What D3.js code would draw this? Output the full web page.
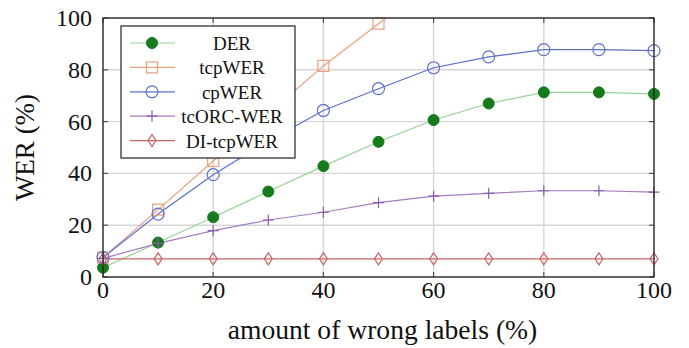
<!DOCTYPE html>
<html>
<head>
<meta charset="utf-8">
<script src="https://cdn.jsdelivr.net/npm/d3@7"></script>
<style>
  body { margin: 0; background: #fff; }
</style>
</head>
<body>
<div id="chart"></div>
<script>
// data
var xValues = [0, 10, 20, 30, 40, 50, 60, 70, 80, 90, 100];
var derValues = [3.6, 13.3, 23.1, 33.0, 42.8, 52.2, 60.6, 67.0, 71.3, 71.3, 70.7];
var tcpValues = [7.5, 26.0, 44.8, 63.0, 81.5, 97.8, 114];
var cpValues = [7.5, 24.3, 39.5, 52.5, 64.3, 72.7, 80.8, 85.0, 87.8, 87.8, 87.4];
var orcValues = [7.2, 13.0, 17.9, 22.0, 25.0, 28.7, 31.2, 32.3, 33.3, 33.3, 32.8];
var ditcpValues = [7.0, 7.0, 7.0, 7.0, 7.0, 7.0, 7.0, 7.0, 7.0, 7.0, 7.0];
var tickValues = [0, 20, 40, 60, 80, 100];

var svgWidth = 689;
var svgHeight = 348;
var serif = "Times New Roman";

var margin = { top: 18, right: 35, bottom: 71, left: 103 };
var width = svgWidth - margin.left - margin.right;
var height = svgHeight - margin.top - margin.bottom;

var svg = d3.select("#chart")
  .append("svg")
  .attr("width", svgWidth)
  .attr("height", svgHeight);

var chartGroup = svg.append("g")
  .attr("transform", `translate(${margin.left}, ${margin.top})`);

var xScale = d3.scaleLinear().domain([0, 100]).range([0, width]);
var yScale = d3.scaleLinear().domain([0, 100]).range([height, 0]);

var series = [
  { name: "DER", values: derValues, line: "#96d296", mark: "#157a1c", shape: "dot" },
  { name: "tcpWER", values: tcpValues, line: "#e9a07c", mark: "#e9a07c", shape: "square" },
  { name: "cpWER", values: cpValues, line: "#5c70cc", mark: "#5c70cc", shape: "circle" },
  { name: "tcORC-WER", values: orcValues, line: "#a57cc0", mark: "#8a5aa8", shape: "plus" },
  { name: "DI-tcpWER", values: ditcpValues, line: "#c96464", mark: "#c96464", shape: "diamond" }
];

// grid
chartGroup.append("g")
  .selectAll("line")
  .data(tickValues)
  .enter()
  .append("line")
  .attr("x1", d => xScale(d)).attr("x2", d => xScale(d))
  .attr("y1", 0).attr("y2", height)
  .attr("stroke", "#d6d6d6").attr("stroke-width", 1.4);

chartGroup.append("g")
  .selectAll("line")
  .data(tickValues)
  .enter()
  .append("line")
  .attr("y1", d => yScale(d)).attr("y2", d => yScale(d))
  .attr("x1", 0).attr("x2", width)
  .attr("stroke", "#d6d6d6").attr("stroke-width", 1.4);

// inner tick marks on all four sides
var tickLen = 5;
var tickGroup = chartGroup.append("g").attr("stroke", "#555").attr("stroke-width", 1.2);
tickValues.forEach(function(t) {
  tickGroup.append("line").attr("x1", xScale(t)).attr("x2", xScale(t)).attr("y1", height).attr("y2", height - tickLen);
  tickGroup.append("line").attr("x1", xScale(t)).attr("x2", xScale(t)).attr("y1", 0).attr("y2", tickLen);
  tickGroup.append("line").attr("y1", yScale(t)).attr("y2", yScale(t)).attr("x1", 0).attr("x2", tickLen);
  tickGroup.append("line").attr("y1", yScale(t)).attr("y2", yScale(t)).attr("x1", width).attr("x2", width - tickLen);
});

// clip for lines
svg.append("defs").append("clipPath").attr("id", "plotClip")
  .append("rect").attr("x", 0).attr("y", 0).attr("width", width).attr("height", height);

var lineGen = d3.line()
  .x((d, i) => xScale(xValues[i]))
  .y(d => yScale(d));

function drawMarker(g, shape, color) {
  if (shape === "dot") {
    g.append("circle").attr("r", 5.5).attr("fill", color).attr("stroke", color);
  } else if (shape === "square") {
    g.append("rect").attr("x", -5.5).attr("y", -5.5).attr("width", 11).attr("height", 11)
      .attr("fill", "none").attr("stroke", color).attr("stroke-width", 1.2);
  } else if (shape === "circle") {
    g.append("circle").attr("r", 6).attr("fill", "none").attr("stroke", color).attr("stroke-width", 1.2);
  } else if (shape === "plus") {
    g.append("path").attr("d", "M-5.5,0H5.5M0,-5.5V5.5").attr("stroke", color).attr("stroke-width", 1.2);
  } else if (shape === "diamond") {
    g.append("path").attr("d", "M0,-6L4,0L0,6L-4,0Z").attr("fill", "none").attr("stroke", color).attr("stroke-width", 1.2);
  }
}

series.forEach(function(s) {
  chartGroup.append("path")
    .datum(s.values)
    .attr("clip-path", "url(#plotClip)")
    .attr("fill", "none")
    .attr("stroke", s.line)
    .attr("stroke-width", 1.2)
    .attr("d", lineGen);
});

series.forEach(function(s) {
  s.values.forEach(function(v, i) {
    if (v > 100) return;
    var g = chartGroup.append("g")
      .attr("transform", `translate(${xScale(xValues[i])}, ${yScale(v)})`);
    drawMarker(g, s.shape, s.mark);
  });
});

// frame
chartGroup.append("rect")
  .attr("width", width).attr("height", height)
  .attr("fill", "none").attr("stroke", "#222").attr("stroke-width", 1.3);

// tick labels
chartGroup.append("g")
  .selectAll("text")
  .data(tickValues)
  .enter()
  .append("text")
  .attr("x", d => xScale(d))
  .attr("y", height + 21)
  .attr("text-anchor", "middle")
  .attr("font-family", serif)
  .attr("font-size", 24)
  .attr("fill", "#111")
  .text(d => d);

chartGroup.append("g")
  .selectAll("text")
  .data(tickValues)
  .enter()
  .append("text")
  .attr("x", -11)
  .attr("y", d => yScale(d) + 8)
  .attr("text-anchor", "end")
  .attr("font-family", serif)
  .attr("font-size", 24)
  .attr("fill", "#111")
  .text(d => d);

// axis labels
chartGroup.append("text")
  .attr("x", width / 2 + 4)
  .attr("y", height + 62)
  .attr("text-anchor", "middle")
  .attr("font-family", serif)
  .attr("font-size", 27.6)
  .attr("fill", "#111")
  .text("amount of wrong labels (%)");

chartGroup.append("text")
  .attr("transform", "rotate(-90)")
  .attr("x", -height / 2)
  .attr("y", -69)
  .attr("text-anchor", "middle")
  .attr("font-family", serif)
  .attr("font-size", 27)
  .attr("fill", "#111")
  .text("WER (%)");

// legend
var legend = chartGroup.append("g").attr("transform", "translate(18, 8)");
legend.append("rect")
  .attr("width", 174).attr("height", 132)
  .attr("fill", "#fff").attr("stroke", "#222").attr("stroke-width", 1.2);

series.forEach(function(s, i) {
  var row = legend.append("g").attr("transform", `translate(0, ${17 + i * 24.4})`);
  row.append("line").attr("x1", 9).attr("x2", 54).attr("y1", 0).attr("y2", 0)
    .attr("stroke", s.line).attr("stroke-width", 1.2);
  var m = row.append("g").attr("transform", "translate(31, 0)");
  drawMarker(m, s.shape, s.mark);
  row.append("text")
    .attr("x", 111)
    .attr("y", 7)
    .attr("text-anchor", "middle")
    .attr("font-family", serif)
    .attr("font-size", 19)
    .attr("fill", "#111")
    .text(s.name);
});
</script>
</body>
</html>
